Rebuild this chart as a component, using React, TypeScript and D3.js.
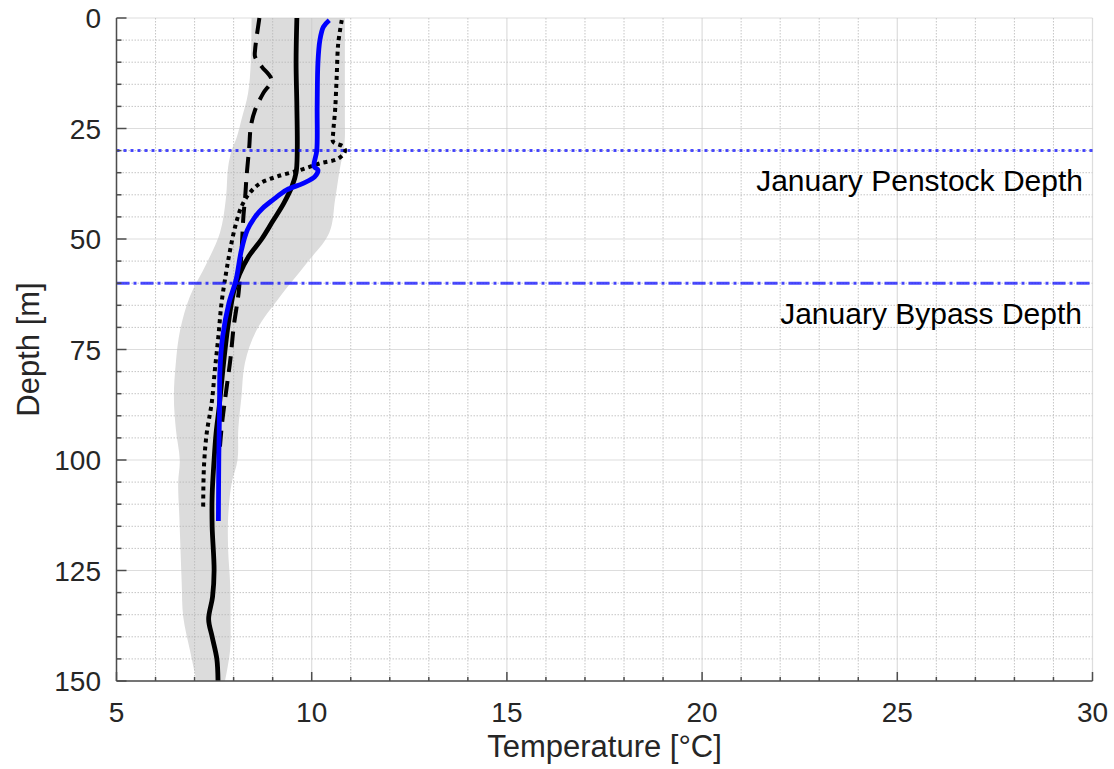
import React from 'react';
import * as d3 from 'd3';

// depth profiles (depth in m, temperature in °C)
const meanDepth = [0, 10, 20, 30, 35, 38, 42, 46, 50, 54, 58, 62, 70, 80, 88, 94, 100, 108, 115, 125, 131, 136, 140, 145, 150];
const meanTemp = [9.62, 9.6, 9.62, 9.63, 9.6, 9.5, 9.28, 9.0, 8.72, 8.38, 8.15, 8.0, 7.85, 7.72, 7.63, 7.55, 7.5, 7.45, 7.45, 7.5, 7.46, 7.36, 7.45, 7.57, 7.6];

const janDepth = [0.5, 2, 5, 10, 20, 30, 33.6, 34.4, 35.9, 37.4, 38.9, 41.2, 43, 45, 48, 52.5, 59.3, 64.5, 72, 79.6, 88, 100, 113.8];
const janTemp = [10.45, 10.3, 10.21, 10.16, 10.14, 10.13, 10.06, 10.16, 10.08, 9.78, 9.36, 9.0, 8.75, 8.55, 8.35, 8.2, 8.06, 7.88, 7.72, 7.65, 7.64, 7.62, 7.61];

const dottedDepth = [0.5, 5.7, 13.3, 20.8, 26, 28, 29.1, 30.2, 31.8, 32.9, 34.4, 35.9, 37.4, 39.7, 42.7, 47.2, 52.5, 57.5, 64.5, 72, 79.6, 87, 94, 101.5, 111];
const dottedTemp = [10.77, 10.68, 10.64, 10.6, 10.55, 10.55, 10.81, 10.85, 10.68, 10.21, 9.7, 9.1, 8.68, 8.4, 8.2, 8.04, 7.91, 7.81, 7.69, 7.61, 7.52, 7.44, 7.31, 7.24, 7.22];

const dashedDepth = [0, 7.2, 8.8, 11, 14, 17, 20.8, 24.6, 29.2, 36, 40, 45, 50, 56, 62, 70, 77, 85, 92, 97];
const dashedTemp = [8.66, 8.55, 8.55, 8.72, 8.97, 8.76, 8.55, 8.44, 8.4, 8.33, 8.3, 8.25, 8.22, 8.18, 8.13, 8.0, 7.92, 7.8, 7.7, 7.65];

// shaded range
const bandDepth = [0, 10, 17, 23, 27, 30, 33.7, 41, 48.6, 55.5, 63, 70.6, 78, 85.7, 93, 100, 105.2, 112.9, 120.4, 127.8, 135.5, 143, 150];
const bandLow = [8.46, 8.44, 8.37, 8.2, 8.08, 7.95, 7.86, 7.8, 7.65, 7.31, 6.88, 6.63, 6.52, 6.47, 6.52, 6.62, 6.58, 6.61, 6.64, 6.67, 6.71, 6.88, 7.05];
const bandHigh = [10.85, 10.85, 10.85, 10.85, 10.85, 10.82, 10.73, 10.6, 10.45, 9.87, 9.19, 8.59, 8.29, 8.2, 8.12, 8.1, 7.95, 7.86, 7.86, 7.91, 7.92, 7.91, 7.78];

const penstockDepth = 30;
const bypassDepth = 60;
const xTicks = [5, 10, 15, 20, 25, 30];
const yTicks = [0, 25, 50, 75, 100, 125, 150];

const W = 1114, H = 769;
const m = { left: 116.5, right: 1092.5, top: 18, bottom: 681 };
const font = '"Liberation Sans", Arial, sans-serif';

export default function App() {
  const x = d3.scaleLinear().domain([5, 30]).range([m.left, m.right]);
  const y = d3.scaleLinear().domain([0, 150]).range([m.top, m.bottom]);

  const line = d3.line<[number, number]>()
    .x(d => x(d[0])).y(d => y(d[1]))
    .curve(d3.curveCatmullRom.alpha(0.5));
  const zip = (t: number[], dd: number[]) => t.map((v, i) => [v, dd[i]] as [number, number]);

  const area = d3.area<number>()
    .y(i => y(bandDepth[i]))
    .x0(i => x(bandLow[i]))
    .x1(i => x(bandHigh[i]))
    .curve(d3.curveCatmullRom.alpha(0.5));

  const minorX = d3.range(5, 31, 1);
  const minorY = d3.range(0, 151, 5);
  const axisCol = '#4d4d4d';

  return (
    <svg width={W} height={H} style={{ position: 'absolute', left: 0, top: 0, background: '#fff' }}>
      <path d={area(d3.range(bandDepth.length)) || ''} fill="#dcdcdc" />

      {/* minor grid */}
      {minorX.filter(v => v % 5 !== 0).map(v => (
        <line key={'mx' + v} x1={x(v)} x2={x(v)} y1={m.top} y2={m.bottom} stroke="#b8b8b8" strokeWidth={1} strokeDasharray="1.5,1.5" opacity={0.8} />
      ))}
      {minorY.filter(v => v % 25 !== 0).map(v => (
        <line key={'my' + v} x1={m.left} x2={m.right} y1={y(v)} y2={y(v)} stroke="#b8b8b8" strokeWidth={1} strokeDasharray="1.5,1.5" opacity={0.8} />
      ))}
      {/* major grid */}
      {xTicks.map(v => (
        <line key={'gx' + v} x1={x(v)} x2={x(v)} y1={m.top} y2={m.bottom} stroke="#c8c8c8" strokeWidth={1.2} opacity={0.6} />
      ))}
      {yTicks.map(v => (
        <line key={'gy' + v} x1={m.left} x2={m.right} y1={y(v)} y2={y(v)} stroke="#c8c8c8" strokeWidth={1.2} opacity={0.6} />
      ))}

      {/* profiles */}
      <path d={line(zip(dashedTemp, dashedDepth)) || ''} fill="none" stroke="#000" strokeWidth={4} strokeDasharray="16,9" />
      <path d={line(zip(meanTemp, meanDepth)) || ''} fill="none" stroke="#000" strokeWidth={4.8} />
      <path d={line(zip(dottedTemp, dottedDepth)) || ''} fill="none" stroke="#000" strokeWidth={4} strokeDasharray="4,4" />
      <path d={line(zip(janTemp, janDepth)) || ''} fill="none" stroke="#0000ff" strokeWidth={4.8} />

      {/* withdrawal depths */}
      <line x1={m.left} x2={m.right} y1={y(penstockDepth)} y2={y(penstockDepth)} stroke="#0000ff" strokeOpacity={0.7} strokeWidth={3} strokeDasharray="3,4" />
      <line x1={m.left} x2={m.right} y1={y(bypassDepth)} y2={y(bypassDepth)} stroke="#0000ff" strokeOpacity={0.7} strokeWidth={3} strokeDasharray="13,4,3,4" />
      <text x={1083} y={y(penstockDepth) + 40} textAnchor="end" fontFamily={font} fontSize={30} fill="#000">January Penstock Depth</text>
      <text x={1082} y={y(bypassDepth) + 41} textAnchor="end" fontFamily={font} fontSize={30} fill="#000">January Bypass Depth</text>

      {/* axes */}
      <line x1={m.left} x2={m.left} y1={m.top} y2={m.bottom} stroke={axisCol} strokeWidth={1.5} />
      <line x1={m.left} x2={m.right} y1={m.bottom} y2={m.bottom} stroke={axisCol} strokeWidth={1.5} />
      {minorX.map(v => (
        <line key={'tx' + v} x1={x(v)} x2={x(v)} y1={m.bottom} y2={m.bottom - (v % 5 === 0 ? 9 : 4)} stroke={axisCol} strokeWidth={1.5} />
      ))}
      {minorY.map(v => (
        <line key={'ty' + v} x1={m.left} x2={m.left + (v % 25 === 0 ? 10 : 5)} y1={y(v)} y2={y(v)} stroke={axisCol} strokeWidth={1.5} />
      ))}
      {xTicks.map(v => (
        <text key={'lx' + v} x={x(v)} y={722} textAnchor="middle" fontFamily={font} fontSize={28} fill="#262626">{v}</text>
      ))}
      {yTicks.map(v => (
        <text key={'ly' + v} x={101} y={y(v) + 10} textAnchor="end" fontFamily={font} fontSize={28} fill="#262626">{v}</text>
      ))}
      <text x={(m.left + m.right) / 2} y={757} textAnchor="middle" fontFamily={font} fontSize={31} fill="#262626">Temperature [°C]</text>
      <text transform={`translate(39,${(m.top + m.bottom) / 2}) rotate(-90)`} textAnchor="middle" fontFamily={font} fontSize={31} fill="#262626">Depth [m]</text>
    </svg>
  );
}
